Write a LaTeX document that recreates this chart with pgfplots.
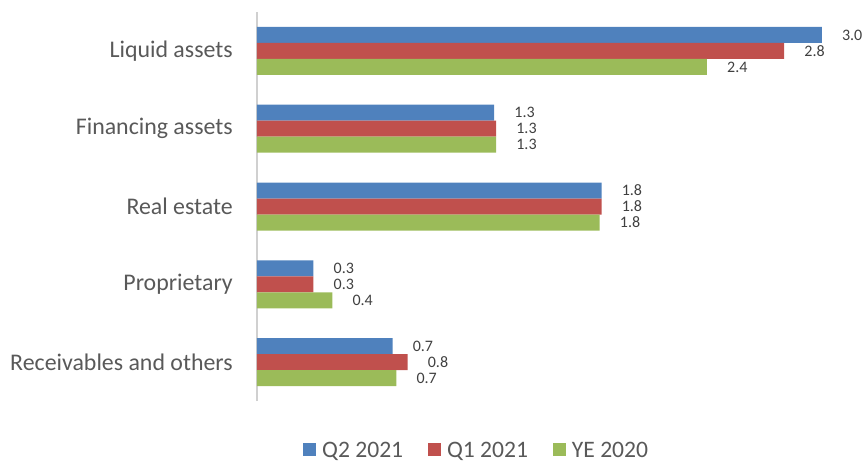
\documentclass[border=0pt]{standalone}
\usepackage{pgfplots}
\pgfplotsset{compat=1.18}
\usepackage{fontspec}
\setmainfont{Carlito}

\definecolor{q2blue}{HTML}{4F81BD}
\definecolor{q1red}{HTML}{C0504D}
\definecolor{yegreen}{HTML}{9BBB59}
\definecolor{txtgray}{HTML}{595959}
\definecolor{axgray}{HTML}{D0D0D0}

% categories from bottom (0) to top (4)
% 0 Receivables and others, 1 Proprietary, 2 Real estate, 3 Financing assets, 4 Liquid assets

\begin{document}
\begin{tikzpicture}
\begin{axis}[
    /pgf/number format/assume math mode=true,
    scale only axis,
    x=141.2pt, y=58.35pt,
    xmin=0, xmax=3.2,
    ymin=-0.5, ymax=4.5,
    xbar, bar width=12pt,
    axis lines*=left,
    x axis line style={draw=none},
    y axis line style={draw=axgray, line width=1.3pt},
    xtick=\empty,
    ytick={0,1,2,3,4},
    yticklabels={Receivables and others, Proprietary, Real estate, Financing assets, Liquid assets},
    major tick length=0pt,
    yticklabel style={font=\fontsize{17.9}{20}\selectfont, text=txtgray, inner sep=0pt, xshift=-18pt},
    clip=false,
    nodes near coords,
    point meta=x,
    nodes near coords style={font=\fontsize{12}{14}\selectfont, text=black!75,
        anchor=west, inner sep=0pt, xshift=15pt,
        /pgf/number format/.cd, fixed, fixed zerofill, precision=1},
    legend columns=3,
    legend style={draw=none, fill=none, inner sep=0pt, outer sep=0pt,
        at={(0.0763,-0.1255)}, anchor=west,
        font=\fontsize{17.7}{20}\selectfont, text=txtgray,
        nodes={inner sep=0pt, text depth=0pt},
        /tikz/every odd column/.append style={column sep=4.5pt},
        /tikz/every even column/.append style={column sep=18.5pt}},
    legend image code/.code={\fill[#1] (0pt,-4.9pt) rectangle (9.9pt,4.9pt);},
]
\addplot[fill=q2blue, draw=none, bar shift=12pt] coordinates {
    (0.72,0) (0.30,1) (1.83,2) (1.26,3) (3.00,4)
};
\addlegendentry{Q2 2021}
\addplot[fill=q1red, draw=none, bar shift=0pt] coordinates {
    (0.80,0) (0.30,1) (1.83,2) (1.27,3) (2.80,4)
};
\addlegendentry{Q1 2021}
\addplot[fill=yegreen, draw=none, bar shift=-12pt] coordinates {
    (0.74,0) (0.40,1) (1.82,2) (1.27,3) (2.39,4)
};
\addlegendentry{YE 2020}
\end{axis}
\pgfresetboundingbox
\useasboundingbox (-192.75pt,-45pt) rectangle (455.25pt,300.75pt);
\end{tikzpicture}
\end{document}
